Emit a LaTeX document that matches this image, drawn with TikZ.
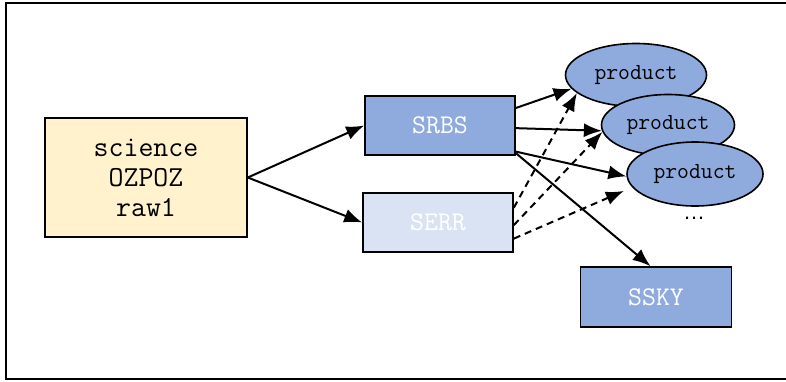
\documentclass[tikz,border=0pt]{standalone}
\usepackage{fontspec}
\newfontfamily\dotsfont{Liberation Sans}
\usepackage{tikz}
\usetikzlibrary{shapes,arrows.meta,calc}
\definecolor{rawyellow}{HTML}{FFF2CC}
\definecolor{prodblue}{HTML}{8FAADC}
\definecolor{errblue}{HTML}{DAE3F3}
\tikzstyle{arrow} = [draw, line width=2pt, -{Latex[length=18pt,width=14pt]}]
\tikzstyle{dasharrow} = [arrow, dash pattern=on 7pt off 5pt]
\tikzstyle{box} = [draw, line width=1.6pt, rectangle, font=\fontsize{27}{30}\selectfont\ttfamily]
\tikzstyle{prod} = [draw, line width=1.6pt, ellipse, fill=prodblue, inner sep=0pt,
  minimum width=139pt, minimum height=62pt, font=\fontsize{23}{26}\selectfont\ttfamily]

\begin{document}
\begin{tikzpicture}[x=1pt, y=-1pt]
      \useasboundingbox (0,0) rectangle (786,381);
      \draw[line width=2pt] (6,3) rectangle (792,379);

      \node (raw) at (146,177.5) [box, fill=rawyellow, minimum width=202pt, minimum height=119pt,
        align=center, font=\fontsize{29}{30}\selectfont\ttfamily] {science\\OZPOZ\\raw1};
      \node (srbs) at (440,125.5) [box, fill=prodblue, text=white, minimum width=150pt, minimum height=59pt] {SRBS};
      \node (serr) at (438,222.5) [box, fill=errblue, text=white, minimum width=150pt, minimum height=59pt] {SERR};
      \node (ssky) at (656,297) [box, fill=prodblue, text=white, minimum width=151pt, minimum height=60pt] {SSKY};

      \node (p1) at (636,75) [prod, minimum width=141pt, minimum height=63pt] {product};
      \node (p2) at (668,125) [prod, minimum width=133pt, minimum height=61pt] {product};
      \node (p3) at (695,174) [prod, minimum width=136pt, minimum height=64pt] {product};
      \node (more) at (694,218) [font=\fontsize{22}{24}\selectfont\dotsfont] {\dots};

      \path[arrow] (raw.east) -- (srbs.west);
      \path[arrow] (raw.east) -- (serr.west);
      \path[arrow] (srbs.13) -- (p1.192);
      \path[arrow] (srbs.-2) -- (p2.185);
      \path[arrow] (srbs.-19) -- (p3.182);
      \path[arrow] (srbs.-20) -- (ssky.100);
      \path[dasharrow] (serr.11) -- (p1.197);
      \path[dasharrow] (serr.-2) -- (p2.186);
      \path[dasharrow, shorten >=9pt] (serr.-12) -- (p3.192);
\end{tikzpicture}
\end{document}
